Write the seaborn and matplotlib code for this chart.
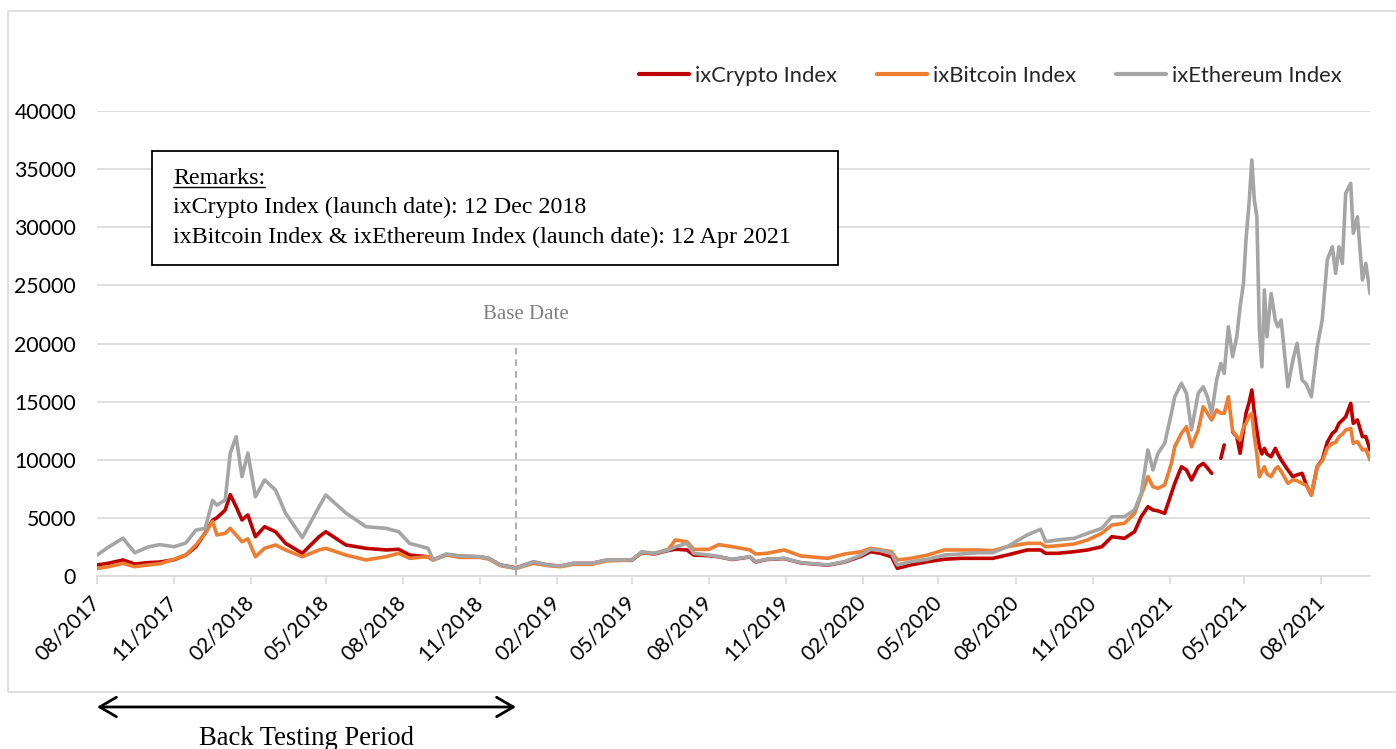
import pandas as pd
import seaborn as sns
import matplotlib.pyplot as plt
import matplotlib.dates as mdates
import matplotlib.transforms as mtransforms
from matplotlib.lines import Line2D
from matplotlib.patches import Rectangle

# values
dates = [
    '2017-08-01', '2017-08-15', '2017-09-01', '2017-09-15', '2017-10-01', '2017-10-15',
    '2017-11-01', '2017-11-15', '2017-11-27', '2017-12-08', '2017-12-17', '2017-12-22',
    '2018-01-01', '2018-01-07', '2018-01-14', '2018-01-21', '2018-01-28', '2018-02-06',
    '2018-02-17', '2018-03-02', '2018-03-14', '2018-04-03', '2018-04-23', '2018-05-01',
    '2018-05-25', '2018-06-18', '2018-07-12', '2018-07-27', '2018-08-09', '2018-08-31',
    '2018-09-06', '2018-09-22', '2018-10-08', '2018-11-01', '2018-11-12', '2018-11-25',
    '2018-12-14', '2019-01-04', '2019-01-20', '2019-02-05', '2019-02-20', '2019-03-14',
    '2019-04-01', '2019-05-01', '2019-05-13', '2019-05-28', '2019-06-14', '2019-06-22',
    '2019-07-06', '2019-07-14', '2019-08-01', '2019-08-13', '2019-08-29', '2019-09-19',
    '2019-09-26', '2019-10-09', '2019-10-30', '2019-11-19', '2019-12-21', '2020-01-10',
    '2020-01-30', '2020-02-10', '2020-02-22', '2020-03-06', '2020-03-13', '2020-03-29',
    '2020-04-18', '2020-05-08', '2020-05-28', '2020-06-17', '2020-07-05', '2020-07-22',
    '2020-08-15', '2020-08-31', '2020-09-06', '2020-09-20', '2020-10-10', '2020-10-26',
    '2020-11-12', '2020-11-24', '2020-12-09', '2020-12-21', '2020-12-29', '2021-01-06',
    '2021-01-12', '2021-01-18', '2021-01-26', '2021-02-03', '2021-02-07', '2021-02-15',
    '2021-02-21', '2021-02-27', '2021-03-07', '2021-03-13', '2021-03-18', '2021-03-23',
    '2021-03-29', '2021-04-03', '2021-04-07', '2021-04-12', '2021-04-17', '2021-04-22',
    '2021-04-26', '2021-04-30', '2021-05-03', '2021-05-07', '2021-05-10', '2021-05-13',
    '2021-05-16', '2021-05-19', '2021-05-22', '2021-05-25', '2021-05-28', '2021-06-02',
    '2021-06-07', '2021-06-10', '2021-06-14', '2021-06-22', '2021-06-28', '2021-07-03',
    '2021-07-09', '2021-07-14', '2021-07-20', '2021-07-27', '2021-08-02', '2021-08-08',
    '2021-08-14', '2021-08-18', '2021-08-22', '2021-08-26', '2021-08-30', '2021-09-05',
    '2021-09-08', '2021-09-13', '2021-09-19', '2021-09-23', '2021-09-28',
]

crypto = [
    950, 1100, 1380, 1030, 1150, 1200,
    1400, 1800, 2520, 3700, 4800, 5000,
    5680, 7000, 5960, 4820, 5250, 3380,
    4240, 3810, 2810, 1950, 3380, 3810,
    2670, 2380, 2240, 2300, 1800, 1660,
    1380, 1850, 1700, 1650, 1500, 950,
    700, 1200, 950, 850, 1080, 1080,
    1350, 1350, 2000, 1900, 2200, 2300,
    2240, 1800, 1750, 1650, 1420, 1640,
    1200, 1420, 1500, 1130, 930, 1200,
    1700, 2090, 1950, 1660, 660, 950,
    1230, 1440, 1520, 1520, 1520, 1800,
    2240, 2240, 1950, 1950, 2090, 2240,
    2520, 3380, 3240, 3810, 5100, 5960,
    5680, 5600, 5390, 7110, 7970, 9400,
    9120, 8260, 9400, 9690, 9300, 8830,
    None, 10120, 11270, None, 12410, 11980,
    10550, 12500, 13990, 15000, 16000, 13990,
    12500, 11120, 10500, 10980, 10500, 10260,
    10980, 10500, 9980, 9120, 8540, 8700,
    8830, 7830, 6970, 9400, 10000, 11500,
    12270, 12500, 13130, 13400, 13700, 14850,
    13130, 13420, 11980, 12000, 10840,
]

bitcoin = [
    650, 800, 1090, 800, 950, 1050,
    1450, 1800, 2670, 3670, 4700, 3530,
    3670, 4100, 3530, 2950, 3200, 1660,
    2380, 2670, 2240, 1660, 2240, 2380,
    1800, 1380, 1660, 1950, 1520, 1660,
    1380, 1800, 1600, 1600, 1450, 900,
    650, 1100, 900, 800, 1000, 1000,
    1300, 1400, 2000, 1950, 2300, 3100,
    2950, 2290, 2290, 2700, 2520, 2240,
    1890, 1950, 2240, 1720, 1520, 1890,
    2090, 2380, 2250, 2090, 1380, 1520,
    1800, 2240, 2240, 2240, 2180, 2520,
    2810, 2810, 2520, 2600, 2750, 3100,
    3670, 4390, 4530, 5390, 6970, 8540,
    7680, 7540, 7830, 9690, 11120, 12270,
    12840, 11120, 12560, 14560, 14000, 13420,
    14280, 14000, 13990, 15420, 12500, 11980,
    11700, 12800, 13130, 13800, 13990, 11980,
    10500, 8540, 9000, 9400, 8800, 8540,
    9200, 9400, 9000, 7970, 8260, 8200,
    7970, 7800, 6970, 9400, 9900, 11000,
    11410, 11500, 11980, 12200, 12560, 12700,
    11410, 11560, 10840, 10900, 9980,
]

ethereum = [
    1800, 2500, 3250, 2000, 2500, 2700,
    2520, 2840, 3950, 4100, 6500, 6100,
    6540, 10580, 11980, 8540, 10580, 6820,
    8260, 7400, 5400, 3300, 5960, 6970,
    5420, 4240, 4100, 3810, 2810, 2380,
    1380, 1890, 1720, 1660, 1520, 950,
    660, 1230, 950, 860, 1090, 1090,
    1380, 1380, 2090, 1950, 2240, 2500,
    2810, 1950, 1800, 1660, 1440, 1660,
    1230, 1440, 1520, 1150, 950, 1230,
    1800, 2290, 2180, 1950, 950, 1230,
    1440, 1800, 1890, 2000, 2000, 2520,
    3530, 4020, 2950, 3100, 3240, 3670,
    4100, 5100, 5100, 5680, 7110, 10840,
    9120, 10550, 11410, 13990, 15420, 16570,
    15710, 12560, 15710, 16280, 15420, 13990,
    16850, 18290, 17430, 21440, 18860, 20580,
    23160, 25170, 28900, 32340, 35780, 32340,
    30900, 21160, 18000, 24600, 20580, 24310,
    22000, 21440, 22020, 16280, 18580, 20010,
    16850, 16500, 15420, 19720, 22020, 27180,
    28320, 26030, 28320, 26890, 32920, 33780,
    29480, 30900, 25460, 26890, 24310,
]

series_names = ['ixCrypto Index', 'ixBitcoin Index', 'ixEthereum Index']
colors = ['#C00000', '#ED7D31', '#A5A5A5']
tick_dates = pd.date_range('2017-08-01', '2021-08-01', freq='3MS')
y_ticks = list(range(0, 40001, 5000))
start_date = pd.Timestamp('2017-08-01')
base_date = pd.Timestamp('2018-12-14')
end_date = pd.Timestamp('2021-09-28')

df = pd.DataFrame({'date': pd.to_datetime(dates),
                   series_names[0]: crypto,
                   series_names[1]: bitcoin,
                   series_names[2]: ethereum})
long = df.melt(id_vars='date', var_name='series', value_name='value')
# split at missing values so the gaps stay visible
long['segment'] = long.groupby('series')['value'].transform(lambda s: s.isna().cumsum())
long = long.dropna()

sns.set_theme(style='white')
plt.rcParams['font.family'] = ['Lato', 'DejaVu Sans']
serif = 'Liberation Serif'

W, H = 1396, 749
fig = plt.figure(figsize=(W / 100, H / 100), dpi=100)
ax = fig.add_axes([97 / W, 1 - 576 / H, (1370 - 97) / W, 465 / H])

sns.lineplot(data=long, x='date', y='value', hue='series', units='segment',
             estimator=None, hue_order=series_names,
             palette=dict(zip(series_names, colors)), linewidth=2.6,
             legend=False, ax=ax)

ax.set_xlim(start_date, end_date)
ax.set_ylim(0, 40000)
ax.set_yticks(y_ticks)
ax.set_xticks(tick_dates)
ax.xaxis.set_major_formatter(mdates.DateFormatter('%m/%Y'))
ax.set_xlabel('')
ax.set_ylabel('')
ax.yaxis.grid(True, color='#D9D9D9', lw=1.2)
ax.xaxis.grid(False)
ax.set_axisbelow(True)
for s in ['top', 'right', 'left']:
    ax.spines[s].set_visible(False)
ax.spines['bottom'].set_color('#D9D9D9')
ax.spines['bottom'].set_linewidth(1.2)
ax.tick_params(axis='x', length=6, width=1.2, color='#D9D9D9', labelsize=15,
               labelcolor='black', pad=11, bottom=True)
ax.tick_params(axis='y', length=0, labelsize=15.3, labelcolor='black', pad=15)
for lab in ax.get_xticklabels():
    lab.set_rotation(45)
    lab.set_ha('right')
    lab.set_va('center')
    lab.set_rotation_mode('anchor')

# base date marker
ax.plot([base_date, base_date], [0, 19600], color='#A0A0A0', lw=1.2, ls=(0, (4, 3)))
ax.annotate('Base Date', xy=(mdates.date2num(base_date), 22530), xytext=(7, 0),
            textcoords='offset points', ha='center', va='center',
            fontsize=15, color='#808080', family=serif)

# back testing period arrow below the axis
trans = mtransforms.blended_transform_factory(ax.transData, ax.transAxes)
ax.annotate('', xy=(mdates.date2num(base_date), -0.2817),
            xytext=(mdates.date2num(start_date), -0.2817),
            xycoords=trans, textcoords=trans, annotation_clip=False,
            arrowprops=dict(arrowstyle='<->,head_length=0.6,head_width=0.35',
                            color='black', lw=2, mutation_scale=20,
                            shrinkA=0, shrinkB=0))
mid = mdates.date2num(start_date) + (mdates.date2num(base_date) - mdates.date2num(start_date)) / 2
ax.text(mid, -0.363, 'Back Testing Period', transform=trans, ha='center',
        va='baseline', fontsize=19.2, family=serif, color='black', clip_on=False)

# legend
handles = [Line2D([0], [0], color=c, lw=3) for c in colors]
fig.legend(handles, series_names, loc='center', bbox_to_anchor=(0.7095, 0.8985),
           ncol=3, frameon=False, fontsize=15.8, handlelength=2.28,
           handletextpad=0.27, columnspacing=1.83)

# remarks box
fig.add_artist(Rectangle((152 / W, 1 - 265 / H), (838 - 152) / W, (265 - 151) / H,
                         transform=fig.transFigure, facecolor='white',
                         edgecolor='black', lw=1.3, zorder=5))
t_rem = fig.text(173 / W, 1 - 184 / H, 'Remarks:', fontsize=17.3, family=serif,
                 va='baseline', ha='left', color='black', zorder=6)
fig.text(173 / W, 1 - 213 / H, 'ixCrypto Index (launch date): 12 Dec 2018',
         fontsize=17.3, family=serif, va='baseline', ha='left', color='black', zorder=6)
fig.text(173 / W, 1 - 243 / H,
         'ixBitcoin Index & ixEthereum Index (launch date): 12 Apr 2021',
         fontsize=17.3, family=serif, va='baseline', ha='left', color='black', zorder=6)

fig.canvas.draw()
bb = t_rem.get_window_extent(fig.canvas.get_renderer())
uy = 1 - 187 / H
fig.add_artist(Line2D([bb.x0 / W, bb.x1 / W], [uy, uy], color='black', lw=1,
                      transform=fig.transFigure, zorder=6))

# outer chart border
fig.add_artist(Rectangle((8 / W, 1 - 692 / H), 1.0, (692 - 11) / H,
                         transform=fig.transFigure, fill=False,
                         edgecolor='#D9D9D9', lw=1.2, zorder=0))

fig.savefig('out.png', dpi=100)
